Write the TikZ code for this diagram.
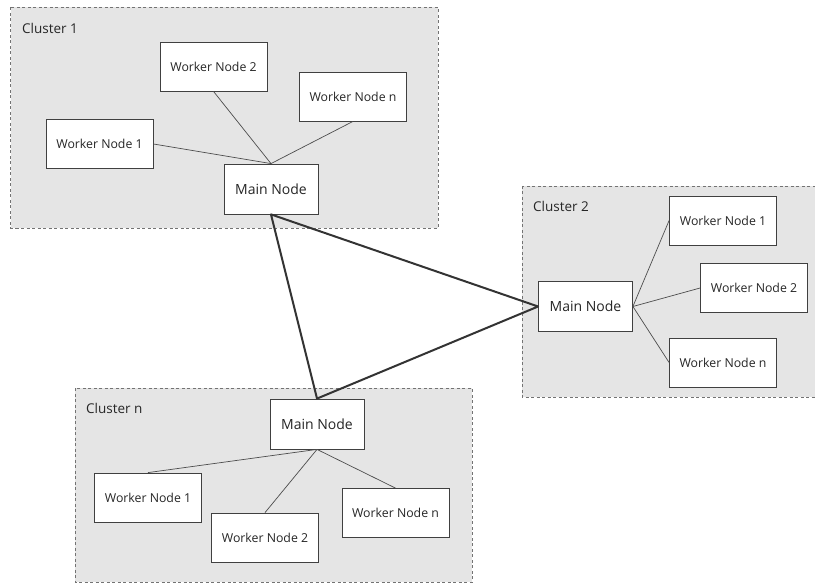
\documentclass[tikz,border=0pt]{standalone}
\usepackage{fontspec}
\setmainfont{Open Sans}
\begin{document}
\begin{tikzpicture}[x=1pt,y=-1pt,
  cluster/.style={draw=black!55, fill=black!10, dash pattern=on 3pt off 2.5pt, line width=0.8pt},
  clabel/.style={anchor=base west, inner sep=0pt, font=\fontsize{13.5}{16}\selectfont, text=black!85},
  worker/.style={draw=black!75, fill=white, line width=0.8pt, minimum width=107pt, minimum height=49pt, inner sep=0pt, font=\fontsize{12.3}{15}\selectfont, text=black!85},
  mainbox/.style={draw=black!75, fill=white, line width=0.8pt, minimum width=94pt, minimum height=50pt, inner sep=0pt, font=\fontsize{14}{17}\selectfont, text=black!85},
  link/.style={draw=black!70, line width=0.7pt},
  trunk/.style={draw=black!80, line width=2pt}]
\useasboundingbox (0,0) rectangle (815,583);
\clip (0,0) rectangle (815,583);

% cluster backgrounds
\draw[cluster] (10.5,7.5) rectangle (438,228);
\draw[cluster] (522,186) rectangle (818,397);
\draw[cluster] (75,388) rectangle (472,582);

\node[clabel] (l1) at (22,34) {Cluster 1};
\node[clabel] (l2) at (533,212) {Cluster 2};
\node[clabel] (ln) at (86,413) {Cluster n};

% cluster 1
\node[worker] (a2) at (213.5,66.5) {Worker Node 2};
\node[worker] (an) at (353,96.5) {Worker Node n};
\node[worker] (a1) at (99.5,144) {Worker Node 1};
\node[mainbox] (am) at (271,189) {Main Node};

% cluster 2
\node[mainbox] (bm) at (585.5,306.5) {Main Node};
\node[worker] (b1) at (723,220.5) {Worker Node 1};
\node[worker] (b2) at (754,288) {Worker Node 2};
\node[worker] (bn) at (723,362.5) {Worker Node n};

% cluster n
\node[mainbox] (cm) at (317,424) {Main Node};
\node[worker] (c1) at (148,497.5) {Worker Node 1};
\node[worker] (c2) at (265,537.5) {Worker Node 2};
\node[worker] (cn) at (395.5,513) {Worker Node n};

% links inside clusters
\draw[link] (a1.east) -- (am.north);
\draw[link] (a2.south) -- (am.north);
\draw[link] (an.south) -- (am.north);

\draw[link] (bm.east) -- (b1.west);
\draw[link] (bm.east) -- (b2.west);
\draw[link] (bm.east) -- (bn.west);

\draw[link] (cm.south) -- (c1.north);
\draw[link] (cm.south) -- (c2.north);
\draw[link] (cm.south) -- (cn.north);

% links between main nodes
\draw[trunk, line join=round] (am.south) -- (bm.west) -- (cm.north) -- cycle;
\end{tikzpicture}
\end{document}
